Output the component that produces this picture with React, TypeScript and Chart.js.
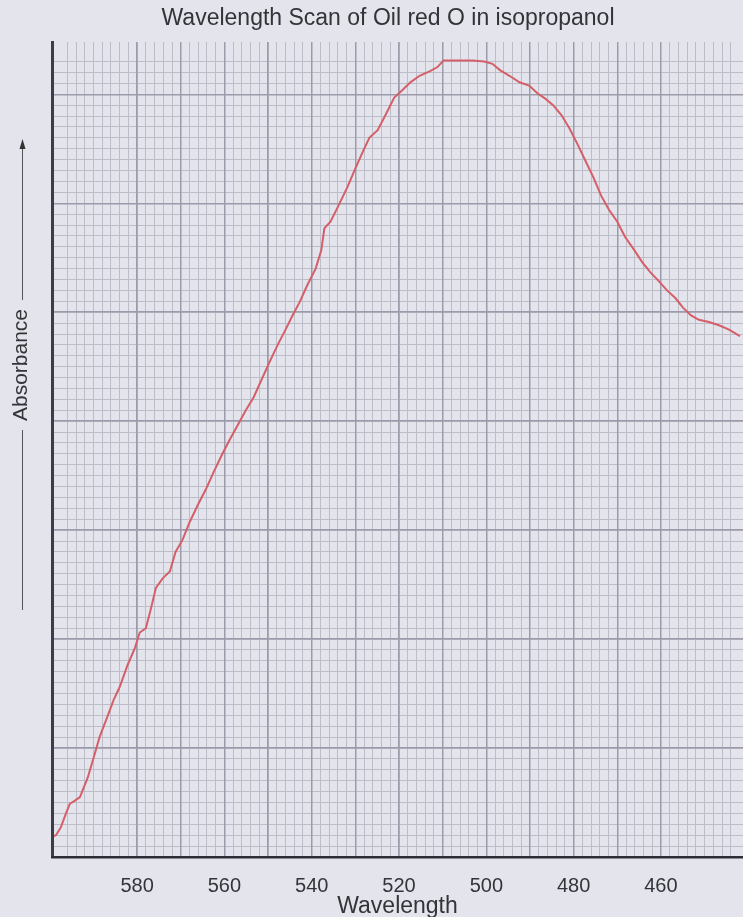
import React, { useEffect, useRef } from 'react';
import { Chart, registerables } from 'chart.js';

Chart.register(...registerables);

const titleText = 'Wavelength Scan of Oil red O in isopropanol';
const xTitleText = 'Wavelength';
const yTitleText = 'Absorbance';

const xTickValues = [580, 560, 540, 520, 500, 480, 460];

const wavelengths = [
  599.8, 598.6, 597.5, 596.3, 595.4, 594.5, 593.1, 591.3, 589.9, 588.6,
  586.7, 585.4, 584.0, 582.2, 580.5, 579.4, 578.0, 576.9, 575.7, 574.1,
  572.5, 571.2, 569.6, 568.0, 566.1, 564.3, 562.5, 560.6, 558.8, 557.0,
  555.1, 553.3, 551.5, 549.7, 547.8, 546.0, 544.4, 542.8, 541.0, 539.1,
  537.8, 537.1, 535.7, 534.1, 531.8, 530.0, 528.1, 526.8, 524.9, 523.1,
  521.1, 519.2, 517.4, 515.3, 513.0, 511.2, 509.8, 506.6, 503.2, 500.5,
  498.6, 496.8, 494.7, 492.4, 490.2, 488.3, 486.5, 484.7, 482.8, 481.0,
  479.2, 477.3, 475.5, 473.7, 471.9, 470.0, 468.2, 466.1, 464.3, 462.5,
  460.6, 458.6, 456.7, 454.9, 453.1, 451.3, 449.0, 446.7, 444.4, 441.9,
];

const absorbance = [
  0.18, 0.20, 0.27, 0.40, 0.49, 0.51, 0.55, 0.73, 0.92, 1.10,
  1.30, 1.44, 1.56, 1.76, 1.92, 2.06, 2.10, 2.27, 2.47, 2.56,
  2.62, 2.80, 2.91, 3.07, 3.23, 3.37, 3.53, 3.69, 3.83, 3.96,
  4.10, 4.22, 4.38, 4.54, 4.70, 4.84, 4.97, 5.09, 5.25, 5.40,
  5.57, 5.77, 5.83, 5.96, 6.15, 6.32, 6.49, 6.60, 6.67, 6.81,
  6.97, 7.04, 7.11, 7.17, 7.21, 7.25, 7.31, 7.31, 7.31, 7.30,
  7.28, 7.22, 7.17, 7.11, 7.08, 7.01, 6.96, 6.90, 6.81, 6.69,
  6.55, 6.39, 6.24, 6.07, 5.94, 5.83, 5.69, 5.57, 5.46, 5.37,
  5.29, 5.20, 5.13, 5.04, 4.97, 4.93, 4.91, 4.88, 4.84, 4.78,
];

const X_MIN = 441.2;
const X_MAX = 599.5;
const Y_MIN = 0;
const Y_MAX = 7.48;

const FONT = 'Arial, "Liberation Sans", sans-serif';
const BG = '#e4e4ed';
const MINOR = '#bdbcc9';
const MAJOR = '#9c9aab';
const TEXT = '#333338';

const keepMultiples = (step: number) => (scale: any) => {
  scale.ticks = scale.ticks.filter((t: any) => {
    const r = t.value / step;
    return Math.abs(r - Math.round(r)) < 1e-6;
  });
};

const yLabelPlugin = {
  id: 'yLabelArrow',
  afterDraw(chart: any) {
    const ctx = chart.ctx;
    const x = 21;
    const cy = 365;
    ctx.save();
    ctx.font = `21px ${FONT}`;
    const w = ctx.measureText(yTitleText).width;
    ctx.translate(x, cy);
    ctx.rotate(-Math.PI / 2);
    ctx.fillStyle = TEXT;
    ctx.textAlign = 'center';
    ctx.textBaseline = 'middle';
    ctx.fillText(yTitleText, 0, 0);
    ctx.restore();

    ctx.save();
    ctx.strokeStyle = '#55555c';
    ctx.lineWidth = 1;
    const lx = x + 1.5;
    ctx.beginPath();
    ctx.moveTo(lx, cy - w / 2 - 9);
    ctx.lineTo(lx, 146);
    ctx.moveTo(lx, cy + w / 2 + 9);
    ctx.lineTo(lx, 610);
    ctx.stroke();
    ctx.fillStyle = '#333';
    ctx.beginPath();
    ctx.moveTo(lx, 139);
    ctx.lineTo(lx - 3, 149);
    ctx.lineTo(lx + 3, 149);
    ctx.closePath();
    ctx.fill();
    ctx.restore();
  },
};

export default function App() {
  const canvasRef = useRef<HTMLCanvasElement | null>(null);

  useEffect(() => {
    document.body.style.margin = '0';
    document.body.style.background = BG;
    const canvas = canvasRef.current;
    if (!canvas) return;

    const points = wavelengths.map((w, i) => ({ x: w, y: absorbance[i] }));

    const chart = new Chart(canvas, {
      type: 'line',
      data: {
        datasets: [
          {
            data: points,
            borderColor: '#d45f68',
            borderWidth: 2,
            pointRadius: 0,
            tension: 0,
            xAxisID: 'x',
            yAxisID: 'y',
          },
        ],
      },
      plugins: [yLabelPlugin],
      options: {
        animation: false,
        responsive: false,
        maintainAspectRatio: false,
        layout: { padding: { left: 33, right: 0, top: 0, bottom: 0 } },
        plugins: {
          legend: { display: false },
          tooltip: { enabled: false },
          title: {
            display: true,
            text: titleText,
            color: TEXT,
            font: { family: FONT, size: 23, weight: 'normal' },
            padding: { top: 5, bottom: 9.4 },
          },
        },
        scales: {
          xMinor: {
            type: 'linear',
            position: 'bottom',
            reverse: true,
            min: X_MIN,
            max: X_MAX,
            afterBuildTicks: keepMultiples(2),
            ticks: { display: false, stepSize: 2 },
            grid: { color: MINOR, lineWidth: 1, drawTicks: false, z: -3 },
            border: { display: false },
          },
          xMajor: {
            type: 'linear',
            position: 'bottom',
            reverse: true,
            min: X_MIN,
            max: X_MAX,
            afterBuildTicks: keepMultiples(10),
            ticks: { display: false, stepSize: 10 },
            grid: { color: MAJOR, lineWidth: 1.5, drawTicks: false, z: -2 },
            border: { display: false },
          },
          yMinor: {
            type: 'linear',
            position: 'left',
            min: Y_MIN,
            max: Y_MAX,
            afterBuildTicks: keepMultiples(0.1),
            ticks: { display: false, stepSize: 0.1 },
            grid: { color: MINOR, lineWidth: 1, drawTicks: false, z: -3 },
            border: { display: false },
          },
          y: {
            type: 'linear',
            position: 'left',
            min: Y_MIN,
            max: Y_MAX,
            afterBuildTicks: keepMultiples(1),
            afterFit: (scale: any) => {
              scale.width = 19;
            },
            ticks: { display: false, stepSize: 1 },
            grid: { color: MAJOR, lineWidth: 1.5, drawTicks: false, z: -2 },
            border: { display: true, color: '#3d3d48', width: 3, z: 1 },
          },
          x: {
            type: 'linear',
            position: 'bottom',
            reverse: true,
            min: X_MIN,
            max: X_MAX,
            afterBuildTicks: (scale: any) => {
              scale.ticks = xTickValues.map((v) => ({ value: v }));
            },
            ticks: {
              color: TEXT,
              font: { family: FONT, size: 20 },
              padding: 17,
              maxRotation: 0,
              autoSkip: false,
            },
            grid: { display: false, drawTicks: false },
            border: { display: true, color: '#2e2e36', width: 2.5, z: 1 },
            title: {
              display: true,
              text: xTitleText,
              color: TEXT,
              font: { family: FONT, size: 23 },
              padding: { top: -22.6, bottom: -3 },
            },
          },
        },
      },
    });

    return () => {
      chart.destroy();
    };
  }, []);

  return (
    <div style={{ width: 743, height: 917 }}>
      <canvas ref={canvasRef} width={743} height={917} style={{ display: 'block' }} />
    </div>
  );
}
